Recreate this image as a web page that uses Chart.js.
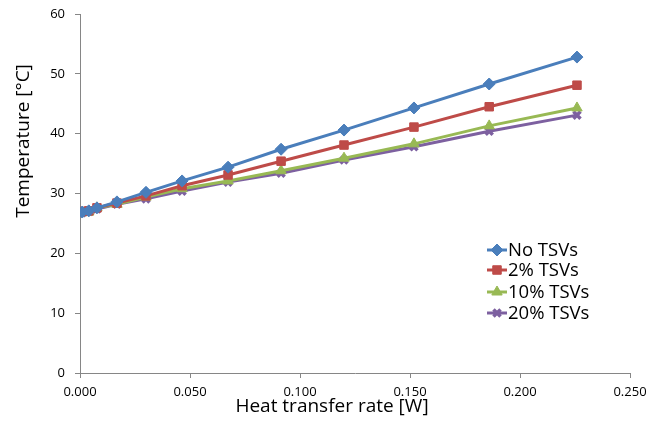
<!DOCTYPE html>
<html><head><meta charset="utf-8">
<script src="https://cdn.jsdelivr.net/npm/chart.js@4/dist/chart.umd.min.js"></script>
<style>html,body{margin:0;padding:0;background:#fff}#wrap{width:663px;height:424px}</style>
</head><body><div id="wrap"><canvas id="c" width="663" height="424"></canvas></div>
<script>
const heatRate = [0.001, 0.004, 0.0077, 0.0168, 0.030, 0.0464, 0.0673, 0.0914, 0.120, 0.1518, 0.186, 0.2259];
const noTSVs   = [26.9, 27.1, 27.6, 28.6, 30.2, 32.1, 34.4, 37.4, 40.6, 44.3, 48.3, 52.8];
const tsv2     = [27.0, 27.1, 27.6, 28.4, 29.6, 31.3, 33.1, 35.4, 38.1, 41.1, 44.5, 48.1];
const tsv10    = [26.8, 26.9, 27.6, 28.2, 29.4, 30.8, 32.1, 33.8, 35.9, 38.3, 41.3, 44.3];
const tsv20    = [26.8, 27.0, 27.4, 28.2, 29.1, 30.4, 31.9, 33.4, 35.6, 37.8, 40.4, 43.1];
const seriesNames = ['No TSVs', '2% TSVs', '10% TSVs', '20% TSVs'];
const xTicks = [0, 0.05, 0.1, 0.15, 0.2, 0.25];
const xTitle = 'Heat transfer rate [W]';
const yTitle = 'Temperature [°C]';

const colors = ['#4A7EBB', '#BE4B48', '#98B954', '#7D60A0'];
const styles = ['rectRot', 'rect', 'triangle', 'crossRot'];
const radii = [6, 6, 6, 5];
const series = [noTSVs, tsv2, tsv10, tsv20];
const FONT = '"Open Sans","Liberation Sans",sans-serif';

const datasets = series.map((vals, i) => ({
  label: seriesNames[i],
  data: heatRate.map((x, j) => ({x: x, y: vals[j]})),
  showLine: true,
  borderColor: colors[i],
  backgroundColor: colors[i],
  borderWidth: 3,
  pointStyle: styles[i],
  pointRadius: radii[i],
  pointBorderWidth: i === 3 ? 3.5 : 1,
  pointBorderColor: colors[i],
  pointBackgroundColor: colors[i],
  tension: 0
}));

const extrasPlugin = {
  id: 'extras',
  afterDraw(chart) {
    const ctx = chart.ctx;
    ctx.save();
    ctx.fillStyle = '#000';
    ctx.font = '19px ' + FONT;
    ctx.textAlign = 'center';
    ctx.textBaseline = 'alphabetic';
    ctx.fillText(xTitle, 332, 412);
    ctx.translate(29, 141);
    ctx.rotate(-Math.PI / 2);
    ctx.fillText(yTitle, 0, 0);
    ctx.restore();
    const x0 = 487, ys = [250, 270, 292, 313];
    chart.data.datasets.forEach((ds, i) => {
      const y = ys[i];
      ctx.save();
      ctx.strokeStyle = ds.borderColor;
      ctx.lineWidth = 3;
      ctx.beginPath(); ctx.moveTo(x0, y); ctx.lineTo(x0 + 20, y); ctx.stroke();
      ctx.fillStyle = ds.backgroundColor;
      ctx.strokeStyle = ds.borderColor;
      ctx.lineWidth = ds.pointBorderWidth;
      Chart.helpers.drawPoint(ctx, {pointStyle: ds.pointStyle, radius: ds.pointRadius, borderWidth: ds.pointBorderWidth}, x0 + 10, y);
      ctx.fillStyle = '#000';
      ctx.font = '18.5px ' + FONT;
      ctx.textBaseline = 'middle';
      ctx.textAlign = 'left';
      ctx.fillText(ds.label, x0 + 21, y + 1);
      ctx.restore();
    });
  }
};

new Chart(document.getElementById('c'), {
  type: 'scatter',
  data: {datasets},
  options: {
    responsive: false,
    animation: false,
    layout: {padding: {top: 14, right: 33, left: 0, bottom: 0}},
    plugins: {legend: {display: false}, tooltip: {enabled: false}},
    scales: {
      x: {
        type: 'linear', min: 0, max: 0.25,
        afterBuildTicks: s => { s.ticks = xTicks.map(v => ({value: v})); },
        afterFit: s => { s.height = 51; s.paddingLeft = 0; s.paddingRight = 0; },
        grid: {display: true, drawOnChartArea: false, color: '#868686', tickLength: 5, tickColor: '#868686'},
        border: {color: '#868686', width: 1},
        ticks: {color: '#000', font: {size: 13, family: FONT}, padding: 6, maxRotation: 0, callback: v => Number(v).toFixed(3)},
        title: {display: false}
      },
      y: {
        min: 0, max: 60,
        ticks: {stepSize: 10, color: '#000', font: {size: 13, family: FONT}, padding: 10},
        afterFit: s => { s.width = 80; s.paddingTop = 0; s.paddingBottom = 0; },
        grid: {display: true, drawOnChartArea: false, color: '#868686', tickLength: 5, tickColor: '#868686'},
        border: {color: '#868686', width: 1},
        title: {display: false}
      }
    }
  },
  plugins: [extrasPlugin]
});
</script>
</body></html>
